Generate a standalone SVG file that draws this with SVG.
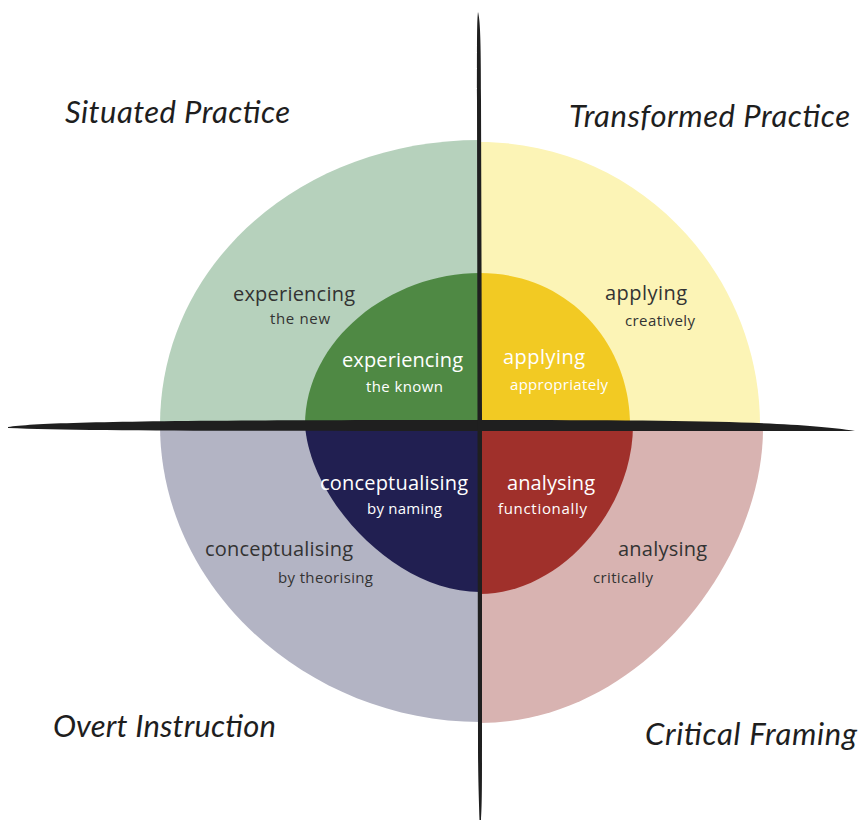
<svg xmlns="http://www.w3.org/2000/svg" width="859" height="821" viewBox="0 0 859 821">
<style>
.title{font-family:Lato,"Open Sans","Liberation Sans",sans-serif;font-style:italic;font-size:31px;fill:#1e1e1e}
.lbl{font-family:"Open Sans","Noto Sans","Liberation Sans",sans-serif;font-size:20px;text-anchor:start}
.sub{font-family:"Open Sans","Noto Sans","Liberation Sans",sans-serif;font-size:15px;text-anchor:start}
.dark{fill:#333333}
.light{fill:#ffffff}
.axis{fill:#1f1f1f}
</style>
<rect width="859" height="821" fill="#ffffff"/>
<g id="situated-practice">
<path d="M480,425 L160,425 C160,265 300,140 480,140 Z" fill="#b6d1bc"/>
<path d="M480,425 L305,425 C305,340 390,273 480,273 Z" fill="#4f8944"/>
<text class="title" x="65" y="123" textLength="225">Situated Practice</text>
<text class="lbl dark" x="233" y="301" textLength="122">experiencing</text>
<text class="sub dark" x="270" y="324" textLength="60">the new</text>
<text class="lbl light" x="342" y="367" textLength="121">experiencing</text>
<text class="sub light" x="366" y="392" textLength="77">the known</text>
</g>
<g id="transformed-practice">
<path d="M480,425 L480,142 C640,142 760,275 760,425 Z" fill="#fcf4b6"/>
<path d="M480,425 L480,273 C570,273 630,345 630,425 Z" fill="#f2ca23"/>
<text class="title" x="569" y="127" textLength="281">Transformed Practice</text>
<text class="lbl dark" x="605" y="300" textLength="82">applying</text>
<text class="sub dark" x="625" y="326" textLength="70">creatively</text>
<text class="lbl light" x="503" y="364" textLength="82">applying</text>
<text class="sub light" x="510" y="390" textLength="98">appropriately</text>
</g>
<g id="overt-instruction">
<path d="M480,425 L160,425 C160,590 310,722 480,722 Z" fill="#b3b4c4"/>
<path d="M480,425 L305,425 C310,500 395,592 480,592 Z" fill="#211f51"/>
<text class="title" x="53" y="737" textLength="223">Overt Instruction</text>
<text class="lbl dark" x="205" y="556" textLength="148">conceptualising</text>
<text class="sub dark" x="278" y="583" textLength="95">by theorising</text>
<text class="lbl light" x="320" y="490" textLength="148">conceptualising</text>
<text class="sub light" x="367" y="514" textLength="75">by naming</text>
</g>
<g id="critical-framing">
<path d="M480,425 L763,425 C765,560 640,723 480,723 Z" fill="#d8b3b1"/>
<path d="M480,425 L633,425 C633,510 560,594 480,594 Z" fill="#a0302b"/>
<text class="title" x="645" y="745" textLength="212">Critical Framing</text>
<text class="lbl dark" x="618" y="556" textLength="89">analysing</text>
<text class="sub dark" x="593" y="583" textLength="60">critically</text>
<text class="lbl light" x="507" y="490" textLength="88">analysing</text>
<text class="sub light" x="498" y="514" textLength="89">functionally</text>
</g>
<g id="connectors">
<path class="axis" d="M8,427 C40,422 150,420 480,420 C700,420 800,422 855,431 C800,431 700,431 480,431 C250,431 80,431 8,428 Z"/>
<path class="axis" d="M478,12 C480,20 481,35 481,100 L482,420 L482,740 C482,790 482,805 481,820 L479.5,820 C479,800 478,780 478,740 L477.5,420 L477,100 C477,35 477,20 478,12 Z"/>
</g>
</svg>
